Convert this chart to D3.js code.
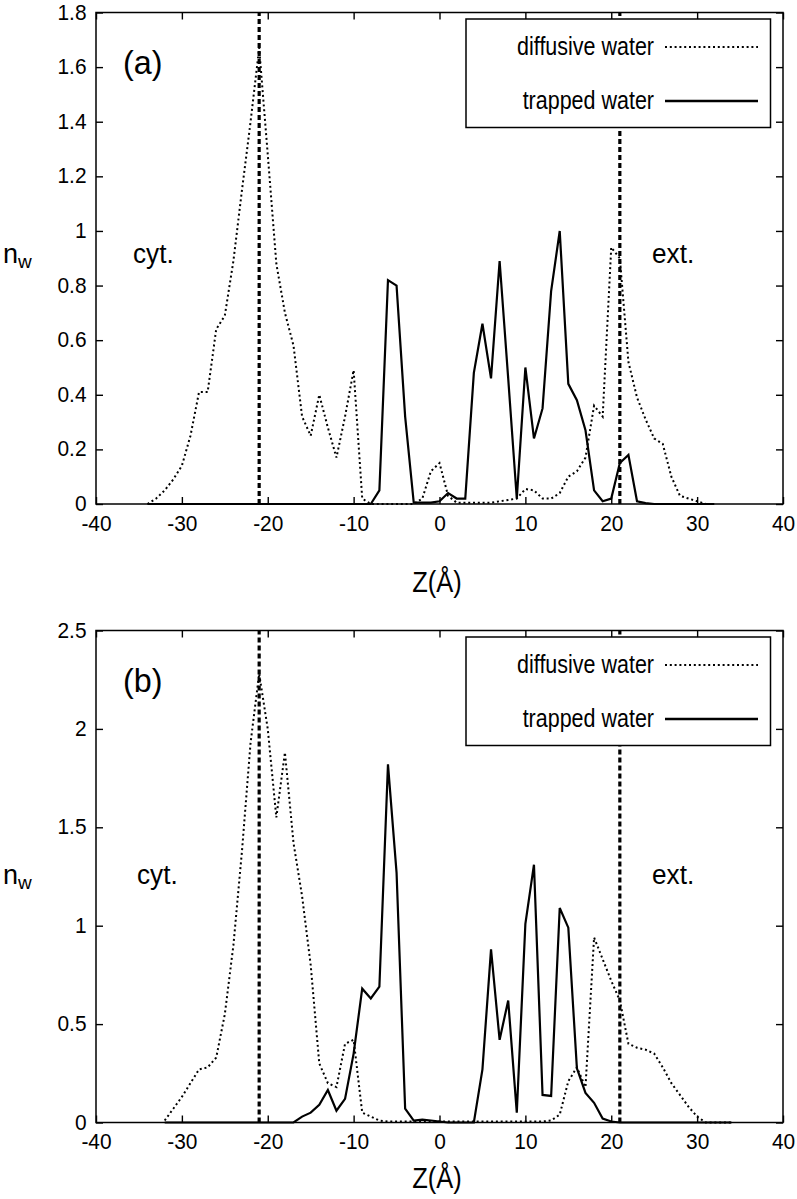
<!DOCTYPE html>
<html>
<head>
<meta charset="utf-8">
<script src="https://cdn.jsdelivr.net/npm/d3@7/dist/d3.min.js"></script>
<style>
  html, body { margin: 0; padding: 0; background: #fff; }
  svg text { font-family: "Liberation Sans", Arial, Helvetica, sans-serif; fill: #000; }
</style>
</head>
<body>
<svg id="chart" width="797" height="1199"></svg>
<script>
// ---------- data ----------
const zA = d3.range(-34, 33, 1);            // Z (Å) for panel (a)
const diffusiveA = [0, 0.02, 0.05, 0.09, 0.14, 0.25, 0.41, 0.41, 0.64, 0.69,
  0.89, 1.15, 1.40, 1.67, 1.28, 0.88, 0.70, 0.58, 0.32, 0.25,
  0.40, 0.28, 0.17, 0.32, 0.49, 0.02, 0, 0, 0, 0,
  0, 0, 0.02, 0.12, 0.15, 0.03, 0.005, 0.005, 0.005, 0.005,
  0.005, 0.01, 0.015, 0.02, 0.055, 0.05, 0.02, 0.02, 0.04, 0.10,
  0.12, 0.17, 0.36, 0.32, 0.94, 0.90, 0.52, 0.39, 0.31, 0.24,
  0.22, 0.10, 0.03, 0.02, 0.01, 0, 0];
const trappedA = [0, 0, 0, 0, 0, 0, 0, 0, 0, 0,
  0, 0, 0, 0, 0, 0, 0, 0, 0, 0,
  0, 0, 0, 0, 0, 0, 0, 0.05, 0.82, 0.80,
  0.32, 0.005, 0.005, 0.005, 0.01, 0.04, 0.02, 0.02, 0.48, 0.66,
  0.46, 0.89, 0.46, 0.02, 0.50, 0.24, 0.35, 0.78, 1.00, 0.44,
  0.38, 0.27, 0.05, 0.01, 0.02, 0.15, 0.18, 0.01, 0.003, 0,
  0, 0, 0, 0, 0, 0, 0];

const zB = d3.range(-32, 35, 1);            // Z (Å) for panel (b)
const diffusiveB = [0.01, 0.07, 0.13, 0.20, 0.27, 0.28, 0.33, 0.55, 0.90, 1.38,
  1.93, 2.28, 2.00, 1.55, 1.88, 1.42, 1.15, 0.80, 0.30, 0.20,
  0.18, 0.40, 0.42, 0.05, 0.03, 0.01, 0.005, 0.005, 0.005, 0.005,
  0.005, 0.005, 0.005, 0.005, 0.005, 0.005, 0.005, 0.005, 0.005, 0.005,
  0.005, 0.005, 0.005, 0.005, 0.005, 0.01, 0.04, 0.21, 0.28, 0.18,
  0.94, 0.83, 0.72, 0.62, 0.40, 0.38, 0.37, 0.35, 0.28, 0.20,
  0.14, 0.08, 0.03, 0, 0, 0, 0];
const trappedB = [0, 0, 0, 0, 0, 0, 0, 0, 0, 0,
  0, 0, 0, 0, 0, 0, 0.03, 0.05, 0.09, 0.165,
  0.06, 0.12, 0.35, 0.68, 0.63, 0.69, 1.82, 1.27, 0.07, 0.01,
  0.015, 0.01, 0.005, 0, 0, 0, 0, 0.27, 0.88, 0.42,
  0.62, 0.05, 1.01, 1.31, 0.14, 0.135, 1.09, 0.99, 0.275, 0.15,
  0.10, 0.02, 0.005, 0, 0, 0, 0, 0, 0, 0,
  0, 0, 0, 0, 0, 0, 0];

const xTicks = [-40, -30, -20, -10, 0, 10, 20, 30, 40];
const yTicksA = [0, 0.2, 0.4, 0.6, 0.8, 1, 1.2, 1.4, 1.6, 1.8];
const yTicksB = [0, 0.5, 1, 1.5, 2, 2.5];
const boundaries = [-21, 21];
const seriesNames = ["diffusive water", "trapped water"];
const panelLabels = ["(a)", "(b)"];
const sideLabels = ["cyt.", "ext."];

// ---------- drawing ----------
const svg = d3.select("#chart");

function label(g, x, y, size, sx, txt, anchor) {
  return g.append("text")
    .attr("transform", `translate(${x},${y}) scale(${sx},1)`)
    .attr("text-anchor", anchor || "start")
    .style("font-size", size + "px").text(txt);
}

function panel(cfg) {
  const g = svg.append("g");
  const x = d3.scaleLinear().domain([-40, 40]).range([96, 783]);
  const y = d3.scaleLinear().domain([0, cfg.yMax]).range([cfg.bottom, cfg.top]);

  const fmt = d => String(d);

  const ax = g.append("g").attr("transform", `translate(0,${cfg.bottom})`)
    .call(d3.axisBottom(x).tickValues(xTicks).tickFormat(fmt).tickSizeInner(-7).tickSizeOuter(0).tickPadding(11));
  const ay = g.append("g").attr("transform", `translate(96,0)`)
    .call(d3.axisLeft(y).tickValues(cfg.yTicks).tickFormat(fmt).tickSizeInner(-7).tickSizeOuter(0).tickPadding(10));
  const at = g.append("g").attr("transform", `translate(0,${cfg.top})`)
    .call(d3.axisTop(x).tickValues(xTicks).tickFormat("").tickSizeInner(-7).tickSizeOuter(0));
  const ar = g.append("g").attr("transform", `translate(783,0)`)
    .call(d3.axisRight(y).tickValues(cfg.yTicks).tickFormat("").tickSizeInner(-7).tickSizeOuter(0));
  [ax, ay, at, ar].forEach(a => {
    a.select(".domain").remove();
    a.selectAll("line").attr("stroke", "#000").attr("stroke-width", 1.4);
    a.selectAll("text").style("font-size", "22px").attr("fill", "#000");
  });
  ax.selectAll("text").attr("transform", "scale(0.95,1)");
  ay.selectAll("text").attr("transform", "scale(0.95,1)").attr("dy", "0.3em");

  // curves
  const line = d3.line().x(d => x(d[0])).y(d => y(d[1]));
  const dPts = cfg.z.map((z, i) => [z, cfg.diff[i]]);
  const tPts = cfg.z.map((z, i) => [z, cfg.trap[i]]);
  g.append("path").attr("d", line(dPts)).attr("fill", "none")
    .attr("stroke", "#000").attr("stroke-width", 2).attr("stroke-dasharray", "2,2.8");
  g.append("path").attr("d", line(tPts)).attr("fill", "none")
    .attr("stroke", "#000").attr("stroke-width", 2.2).attr("stroke-linejoin", "miter");

  // membrane boundaries
  boundaries.forEach(b => {
    g.append("line").attr("x1", x(b)).attr("x2", x(b))
      .attr("y1", cfg.bottom).attr("y2", cfg.top)
      .attr("stroke", "#000").attr("stroke-width", 3.2).attr("stroke-dasharray", "5,3");
  });

  // frame
  g.append("rect").attr("x", 96).attr("y", cfg.top).attr("width", 783 - 96)
    .attr("height", cfg.bottom - cfg.top).attr("fill", "none")
    .attr("stroke", "#000").attr("stroke-width", 1.5);

  // legend
  const lg = g.append("g").attr("transform", `translate(466,${cfg.top + 6.5})`);
  lg.append("rect").attr("width", 304.5).attr("height", 108.5)
    .attr("fill", "#fff").attr("stroke", "#000").attr("stroke-width", 1.5);
  const rows = [
    { name: seriesNames[0], dash: "2,2.8", w: 2, yy: 28 },
    { name: seriesNames[1], dash: null, w: 2.4, yy: 82 }
  ];
  rows.forEach(r => {
    label(lg, 188, r.yy + 8, 25, 0.86, r.name, "end");
    const l = lg.append("line").attr("x1", 199).attr("x2", 292).attr("y1", r.yy).attr("y2", r.yy)
      .attr("stroke", "#000").attr("stroke-width", r.w);
    if (r.dash) l.attr("stroke-dasharray", r.dash);
  });

  // labels
  label(g, 123, cfg.top + 61, 34, 0.95, cfg.label);
  label(g, cfg.cytX, cfg.sideY, 27, 0.97, sideLabels[0]);
  label(g, 652, cfg.sideY, 27, 0.97, sideLabels[1]);

  const nw = g.append("text").attr("transform", `translate(3,${cfg.sideY})`).style("font-size", "27px");
  nw.append("tspan").text("n");
  nw.append("tspan").attr("dy", 5).style("font-size", "19px").text("w");

  label(g, 437, cfg.zY, 29, 0.88, "Z(Å)", "middle");
}

panel({ z: zA, diff: diffusiveA, trap: trappedA, yMax: 1.8, yTicks: yTicksA,
        top: 12.5, bottom: 504, label: panelLabels[0], sideY: 263, cytX: 133, zY: 592 });
panel({ z: zB, diff: diffusiveB, trap: trappedB, yMax: 2.5, yTicks: yTicksB,
        top: 630.5, bottom: 1122.5, label: panelLabels[1], sideY: 884, cytX: 137, zY: 1188 });
</script>
</body>
</html>
